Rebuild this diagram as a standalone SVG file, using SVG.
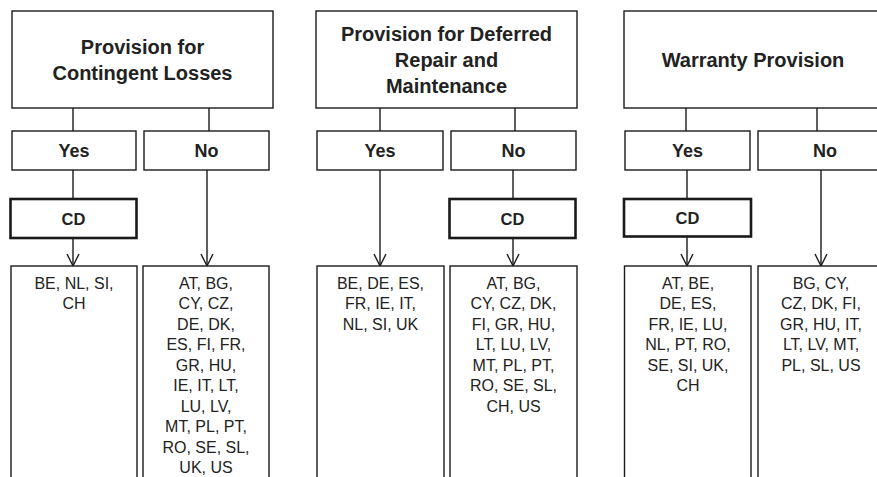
<svg xmlns="http://www.w3.org/2000/svg" width="877" height="477" viewBox="0 0 877 477">
  <defs>
    <marker id="arrow" markerUnits="userSpaceOnUse" markerWidth="16" markerHeight="16" refX="13" refY="7" orient="auto" viewBox="0 0 16 14">
      <path d="M1,1 L13,7 L1,13" fill="none" stroke="#1a1a1a" stroke-width="1.4"/>
    </marker>
    <style>
      .box { fill: #fff; stroke: #1a1a1a; stroke-width: 1.4; }
      .cd { fill: #fff; stroke: #1a1a1a; stroke-width: 2.6; }
      .title { font-family: "Liberation Sans", Arial, sans-serif; font-weight: bold; font-size: 20px; fill: #222; text-anchor: middle; }
      .choice { font-family: "Liberation Sans", Arial, sans-serif; font-weight: bold; font-size: 18px; fill: #222; text-anchor: middle; }
      .cdt { font-family: "Liberation Sans", Arial, sans-serif; font-weight: bold; font-size: 16.5px; fill: #222; text-anchor: middle; }
      .list { font-family: "Liberation Sans", Arial, sans-serif; font-size: 16px; fill: #222; text-anchor: middle; }
      .conn { stroke: #1a1a1a; stroke-width: 1.4; fill: none; }
    </style>
  </defs>
  <rect width="877" height="477" fill="#fff"/>

  <!-- connectors -->
  <g id="connectors">
    <!-- column 1 -->
    <line class="conn" x1="73" y1="108" x2="73" y2="131"/>
    <line class="conn" x1="209" y1="108" x2="209" y2="131"/>
    <line class="conn" x1="73" y1="170" x2="73" y2="199"/>
    <line class="conn" x1="73" y1="238" x2="73" y2="266" marker-end="url(#arrow)"/>
    <line class="conn" x1="207" y1="170" x2="207" y2="266" marker-end="url(#arrow)"/>
    <!-- column 2 -->
    <line class="conn" x1="380" y1="108" x2="380" y2="131"/>
    <line class="conn" x1="515" y1="108" x2="515" y2="131"/>
    <line class="conn" x1="380" y1="170" x2="380" y2="266" marker-end="url(#arrow)"/>
    <line class="conn" x1="513" y1="170" x2="513" y2="199"/>
    <line class="conn" x1="513" y1="238" x2="513" y2="266" marker-end="url(#arrow)"/>
    <!-- column 3 -->
    <line class="conn" x1="686" y1="108" x2="686" y2="131"/>
    <line class="conn" x1="817" y1="108" x2="817" y2="131"/>
    <line class="conn" x1="687" y1="170" x2="687" y2="199"/>
    <line class="conn" x1="687" y1="237" x2="687" y2="266" marker-end="url(#arrow)"/>
    <line class="conn" x1="821" y1="170" x2="821" y2="266" marker-end="url(#arrow)"/>
  </g>

  <!-- column 1: contingent losses -->
  <g id="contingent">
    <rect class="box" x="12" y="11" width="261" height="97"/>
    <text class="title" x="142.5" y="54">Provision for</text>
    <text class="title" x="142.5" y="80">Contingent Losses</text>
  </g>
  <g id="contingent-yes">
    <rect class="box" x="12" y="131" width="124" height="39"/>
    <text class="choice" x="74" y="157">Yes</text>
  </g>
  <g id="contingent-no">
    <rect class="box" x="144" y="131" width="125" height="39"/>
    <text class="choice" x="206.5" y="157">No</text>
  </g>
  <g id="contingent-cd">
    <rect class="cd" x="10.5" y="199" width="126" height="39"/>
    <text class="cdt" x="73.5" y="224.5">CD</text>
  </g>
  <g id="contingent-yes-list">
    <rect class="box" x="11" y="266" width="126" height="230"/>
    <text class="list" x="74" y="289">BE, NL, SI,</text>
    <text class="list" x="74" y="309.4">CH</text>
  </g>
  <g id="contingent-no-list">
    <rect class="box" x="143" y="266" width="126" height="230"/>
    <text class="list" x="206" y="289">AT, BG,</text>
    <text class="list" x="206" y="309.4">CY, CZ,</text>
    <text class="list" x="206" y="329.9">DE, DK,</text>
    <text class="list" x="206" y="350.3">ES, FI, FR,</text>
    <text class="list" x="206" y="370.8">GR, HU,</text>
    <text class="list" x="206" y="391.2">IE, IT, LT,</text>
    <text class="list" x="206" y="411.6">LU, LV,</text>
    <text class="list" x="206" y="432.1">MT, PL, PT,</text>
    <text class="list" x="206" y="452.5">RO, SE, SL,</text>
    <text class="list" x="206" y="473">UK, US</text>
  </g>

  <!-- column 2: deferred repair and maintenance -->
  <g id="repair">
    <rect class="box" x="316" y="11" width="261" height="97"/>
    <text class="title" x="446.5" y="41">Provision for Deferred</text>
    <text class="title" x="446.5" y="67">Repair and</text>
    <text class="title" x="446.5" y="93">Maintenance</text>
  </g>
  <g id="repair-yes">
    <rect class="box" x="317" y="131" width="126" height="39"/>
    <text class="choice" x="380" y="157">Yes</text>
  </g>
  <g id="repair-no">
    <rect class="box" x="451" y="131" width="125" height="39"/>
    <text class="choice" x="513.5" y="157">No</text>
  </g>
  <g id="repair-cd">
    <rect class="cd" x="449.5" y="199" width="126" height="39"/>
    <text class="cdt" x="512.5" y="224.5">CD</text>
  </g>
  <g id="repair-yes-list">
    <rect class="box" x="317" y="266" width="127" height="230"/>
    <text class="list" x="380.5" y="289">BE, DE, ES,</text>
    <text class="list" x="380.5" y="309.4">FR, IE, IT,</text>
    <text class="list" x="380.5" y="329.9">NL, SI, UK</text>
  </g>
  <g id="repair-no-list">
    <rect class="box" x="450" y="266" width="127" height="230"/>
    <text class="list" x="513.5" y="289">AT, BG,</text>
    <text class="list" x="513.5" y="309.4">CY, CZ, DK,</text>
    <text class="list" x="513.5" y="329.9">FI, GR, HU,</text>
    <text class="list" x="513.5" y="350.3">LT, LU, LV,</text>
    <text class="list" x="513.5" y="370.8">MT, PL, PT,</text>
    <text class="list" x="513.5" y="391.2">RO, SE, SL,</text>
    <text class="list" x="513.5" y="411.6">CH, US</text>
  </g>

  <!-- column 3: warranty -->
  <g id="warranty">
    <rect class="box" x="624" y="11" width="261" height="97"/>
    <text class="title" x="753" y="67">Warranty Provision</text>
  </g>
  <g id="warranty-yes">
    <rect class="box" x="625" y="131" width="125" height="39"/>
    <text class="choice" x="687.5" y="157">Yes</text>
  </g>
  <g id="warranty-no">
    <rect class="box" x="758" y="131" width="126" height="39"/>
    <text class="choice" x="825" y="157">No</text>
  </g>
  <g id="warranty-cd">
    <rect class="cd" x="624" y="199" width="127" height="37.5"/>
    <text class="cdt" x="687.5" y="223.5">CD</text>
  </g>
  <g id="warranty-yes-list">
    <rect class="box" x="624.5" y="266" width="126.5" height="230"/>
    <text class="list" x="688" y="289">AT, BE,</text>
    <text class="list" x="688" y="309.4">DE, ES,</text>
    <text class="list" x="688" y="329.9">FR, IE, LU,</text>
    <text class="list" x="688" y="350.3">NL, PT, RO,</text>
    <text class="list" x="688" y="370.8">SE, SI, UK,</text>
    <text class="list" x="688" y="391.2">CH</text>
  </g>
  <g id="warranty-no-list">
    <rect class="box" x="758" y="266" width="127" height="230"/>
    <text class="list" x="821" y="289">BG, CY,</text>
    <text class="list" x="821" y="309.4">CZ, DK, FI,</text>
    <text class="list" x="821" y="329.9">GR, HU, IT,</text>
    <text class="list" x="821" y="350.3">LT, LV, MT,</text>
    <text class="list" x="821" y="370.8">PL, SL, US</text>
  </g>
</svg>
